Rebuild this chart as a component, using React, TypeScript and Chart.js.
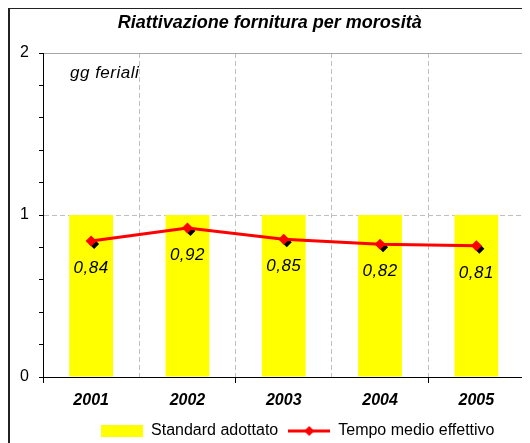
import React, { useEffect, useRef } from 'react';
import { Chart, registerables } from 'chart.js';

Chart.register(...registerables);

// ---- data ----
const years: string[] = ['2001', '2002', '2003', '2004', '2005'];
const standardAdottato: number[] = [1, 1, 1, 1, 1];
const tempoMedio: number[] = [0.84, 0.92, 0.85, 0.82, 0.81];
const seriesNames: string[] = ['Standard adottato', 'Tempo medio effettivo'];
const chartTitle = 'Riattivazione fornitura per morosità';
const unitLabel = 'gg feriali';
const yMin = 0;
const yMax = 2;
const yMinorStep = 0.2;

const FONT = '"Liberation Sans", Arial, Helvetica, sans-serif';
const fmt = (v: number) => v.toFixed(2).replace('.', ',');

function diamond(ctx: CanvasRenderingContext2D, x: number, y: number, r: number) {
  ctx.beginPath();
  ctx.moveTo(x, y - r);
  ctx.lineTo(x + r, y);
  ctx.lineTo(x, y + r);
  ctx.lineTo(x - r, y);
  ctx.closePath();
  ctx.fill();
}

const decorations = {
  id: 'decorations',
  afterLayout(chart: any) {
    const l = chart.legend;
    if (l) {
      l.left += 28;
      l.right += 28;
    }
  },
  beforeDatasetDraw(chart: any, args: any) {
    if (args.index !== 1) return;
    const meta = chart.getDatasetMeta(1);
    const ctx = chart.ctx as CanvasRenderingContext2D;
    ctx.save();
    ctx.fillStyle = '#000';
    meta.data.forEach((p: any) => diamond(ctx, p.x + 3, p.y + 3, 5));
    ctx.restore();
  },
  afterDatasetsDraw(chart: any) {
    const ctx = chart.ctx as CanvasRenderingContext2D;
    const a = chart.chartArea;
    const meta = chart.getDatasetMeta(1);
    ctx.save();
    ctx.strokeStyle = '#a6a6a6';
    ctx.lineWidth = 1;
    ctx.beginPath();
    ctx.moveTo(a.left, a.top + 0.5);
    ctx.lineTo(a.right, a.top + 0.5);
    ctx.stroke();
    ctx.strokeStyle = '#222';
    ctx.lineWidth = 2;
    ctx.beginPath();
    ctx.moveTo(a.right, a.top);
    ctx.lineTo(a.right, a.bottom);
    ctx.stroke();

    ctx.fillStyle = '#000';
    ctx.font = `italic 17px ${FONT}`;
    (ctx as any).letterSpacing = '0.5px';
    ctx.textAlign = 'center';
    ctx.textBaseline = 'middle';
    meta.data.forEach((p: any, i: number) => {
      ctx.fillText(fmt(tempoMedio[i]), p.x, p.y + 27);
    });
    ctx.textAlign = 'left';
    ctx.fillText(unitLabel, a.left + 27, a.top + 20);
    ctx.restore();
  },
};

function makeLineLegendIcon(): HTMLCanvasElement {
  const c = document.createElement('canvas');
  c.width = 42;
  c.height = 12;
  const ctx = c.getContext('2d')!;
  ctx.strokeStyle = '#ff0000';
  ctx.lineWidth = 3;
  ctx.beginPath();
  ctx.moveTo(0, 6);
  ctx.lineTo(42, 6);
  ctx.stroke();
  ctx.fillStyle = '#ff0000';
  diamond(ctx, 21, 6, 5);
  return c;
}

export default function App() {
  const ref = useRef<HTMLCanvasElement | null>(null);

  useEffect(() => {
    document.body.style.overflow = 'hidden';
    if (!ref.current) return;
    Chart.defaults.font.family = FONT;
    Chart.defaults.color = '#000';
    const lineIcon = makeLineLegendIcon();

    const chart = new Chart(ref.current, {
      type: 'bar',
      data: {
        labels: years,
        datasets: [
          {
            type: 'bar',
            label: seriesNames[0],
            data: standardAdottato,
            backgroundColor: '#ffff00',
            borderWidth: 0,
            barPercentage: 0.455,
            categoryPercentage: 1,
            order: 1,
          } as any,
          {
            type: 'line',
            label: seriesNames[1],
            data: tempoMedio,
            borderColor: '#ff0000',
            borderWidth: 3,
            pointStyle: 'rectRot',
            pointRadius: 5.5,
            pointBackgroundColor: '#ff0000',
            pointBorderColor: '#ff0000',
            pointBorderWidth: 0,
            tension: 0,
            order: 0,
          } as any,
        ],
      },
      options: {
        animation: false,
        responsive: true,
        maintainAspectRatio: false,
        events: [],
        layout: { padding: { right: 0.5, left: 0, top: 0, bottom: 0 } },
        plugins: {
          tooltip: { enabled: false },
          title: {
            display: true,
            text: chartTitle,
            color: '#000',
            font: { size: 18, weight: 'bold', style: 'italic' },
            padding: { top: 3, bottom: 19.4 },
          },
          legend: {
            display: true,
            position: 'bottom',
            labels: {
              usePointStyle: true,
              pointStyleWidth: 42,
              boxHeight: 12,
              padding: 10,
              color: '#000',
              font: { size: 16 },
              generateLabels: () => [
                {
                  text: seriesNames[0],
                  fillStyle: '#ffff00',
                  strokeStyle: '#ffff00',
                  lineWidth: 0,
                  pointStyle: 'rect',
                  hidden: false,
                  datasetIndex: 0,
                } as any,
                {
                  text: seriesNames[1],
                  fillStyle: '#ff0000',
                  strokeStyle: '#ff0000',
                  lineWidth: 0,
                  pointStyle: lineIcon,
                  hidden: false,
                  datasetIndex: 1,
                } as any,
              ],
            },
          },
        },
        scales: {
          x: {
            grid: {
              offset: true,
              color: (c: any) => (c.index === 0 ? 'rgba(0,0,0,0)' : '#c0c0c0'),
              lineWidth: 1,
              tickColor: (c: any) => (c.index % 2 === 0 ? '#000' : 'rgba(0,0,0,0)'),
              tickLength: 6,
            },
            border: { display: true, color: '#000', width: 1, dash: [5, 3], z: 1 },
            ticks: {
              color: '#000',
              padding: 8,
              font: { size: 16, weight: 'bold', style: 'italic' },
            },
            afterFit: (s: any) => {
              s.height = 36;
            },
          },
          y: {
            min: yMin,
            max: yMax,
            ticks: {
              stepSize: yMinorStep,
              autoSkip: false,
              color: '#000',
              padding: 10,
              font: { size: 16 },
              callback: (v: any) =>
                Math.abs(v - Math.round(v)) < 1e-6 ? String(Math.round(v)) : '',
            },
            grid: {
              color: (c: any) =>
                c.tick && Math.abs(c.tick.value - 1) < 1e-6 ? '#c0c0c0' : 'rgba(0,0,0,0)',
              tickColor: '#000',
              tickLength: 4,
              lineWidth: 1,
            },
            border: { display: true, color: '#000', width: 1, dash: [5, 3], z: 1 },
            afterFit: (s: any) => {
              s.width = 33;
            },
          },
        },
      },
      plugins: [decorations],
    } as any);

    return () => chart.destroy();
  }, []);

  return (
    <div
      style={{
        boxSizing: 'border-box',
        width: 522,
        height: 441,
        borderLeft: '2px solid #222',
        borderTop: '1px solid #222',
      }}
    >
      <div style={{ position: 'relative', width: 520, height: 440 }}>
        <canvas ref={ref} />
      </div>
    </div>
  );
}
